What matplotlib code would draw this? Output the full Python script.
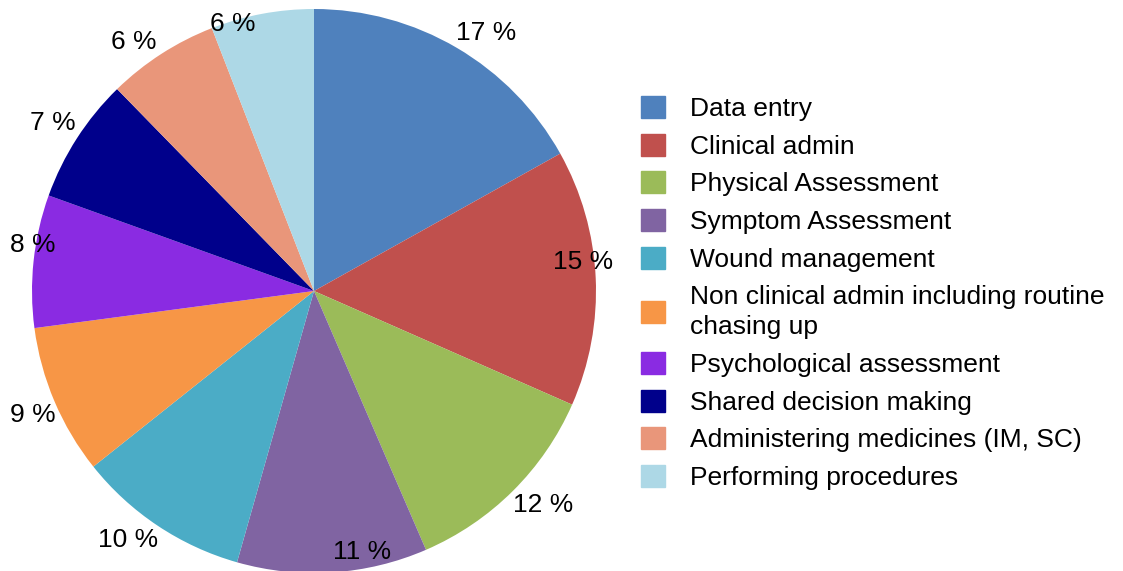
import matplotlib.pyplot as plt
import matplotlib.patches as mpatches
import numpy as np

plt.rcParams['font.family'] = ['Liberation Sans', 'DejaVu Sans']

categories = ["Data entry", "Clinical admin", "Physical Assessment", "Symptom Assessment",
              "Wound management", "Non clinical admin including routine\nchasing up",
              "Psychological assessment", "Shared decision making",
              "Administering medicines (IM, SC)", "Performing procedures"]
shares = [16.9, 14.7, 11.9, 10.9, 9.9, 8.6, 7.6, 7.2, 6.4, 5.9]
colors = ["#4F81BD", "#C0504D", "#9BBB59", "#8064A2", "#4BACC6",
          "#F79646", "#8A2BE2", "#00008B", "#E9967A", "#ADD8E6"]
# label placement: distance from centre (radii) and angle nudge (deg)
label_r = [1.10, 0.96, 1.11, 0.94, 1.10, 1.09, 1.01, 1.10, 1.09, 0.99]
label_da = [-3.3, 3.4, 2.1, 6.7, -3.1, 0.8, -3.1, 0.0, 3.1, 6.3]

fig = plt.figure(figsize=(11.23, 5.71), dpi=100)
ax = fig.add_axes([32 / 1123, -2 / 571, 564 / 1123, 564 / 571])

wedges, _ = ax.pie(shares, colors=colors, startangle=90, counterclock=False,
                   radius=1, wedgeprops=dict(linewidth=0))
ax.set_xlim(-1, 1)
ax.set_ylim(-1, 1)
ax.set_aspect('auto')
ax.axis('off')

for w, v, r, da in zip(wedges, shares, label_r, label_da):
    mid = np.deg2rad((w.theta1 + w.theta2) / 2 + da)
    ax.text(r * np.cos(mid), r * np.sin(mid), "%d %%" % round(v),
            ha='center', va='center', fontsize=19, clip_on=False)

handles = [mpatches.Patch(color=c, label=l) for c, l in zip(colors, categories)]
leg = fig.legend(handles=handles, loc='upper left', bbox_to_anchor=(641 / 1123, 1 - 96 / 571),
                 frameon=False, fontsize=19, handlelength=0.9, handleheight=0.9,
                 handletextpad=0.95, labelspacing=0.48, borderaxespad=0, borderpad=0)
for t in leg.get_texts():
    t.set_linespacing(1.35)

plt.savefig("out.png", dpi=100)
